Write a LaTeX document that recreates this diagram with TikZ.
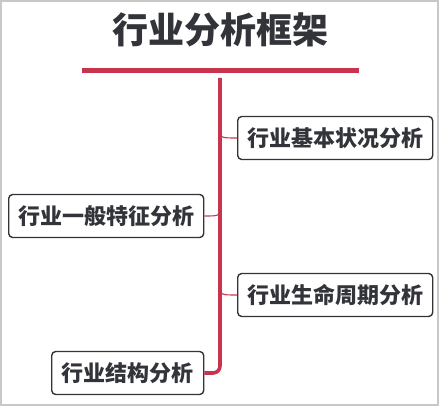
\documentclass[tikz,border=0pt]{standalone}
\usepackage{fontspec}
\newfontfamily\cjk{Noto Sans CJK SC}
\definecolor{trunkred}{RGB}{200,52,78}
\definecolor{txtgray}{RGB}{50,52,58}
\definecolor{framegray}{RGB}{200,200,200}
\begin{document}
\begin{tikzpicture}[x=1pt,y=-1pt,
  topic/.style={draw=txtgray,line width=1.4pt,rounded corners=4pt,fill=white,
    text=txtgray,font=\cjk\bfseries\fontsize{22}{22}\selectfont,
    minimum height=43pt,inner sep=0pt,anchor=west},
  link/.style={draw=trunkred,line width=1.1pt},
]
\useasboundingbox (0,0) rectangle (439,406);
\draw[framegray,line width=1.5pt] (1,1) rectangle (438,405);
\node[text=txtgray,font=\cjk\bfseries\fontsize{36}{36}\selectfont] (title) at (220,30) {行业分析框架};
\coordinate (barL) at (82,71);
\coordinate (barR) at (359,71);
\draw[trunkred,line width=5pt] (barL) -- (barR);
\coordinate (trunkTop) at (220,78);
\node[topic,minimum width=195pt] (b1) at (237,138) {行业基本状况分析};
\node[topic,minimum width=195pt] (b2) at (8,216) {行业一般特征分析};
\node[topic,minimum width=195pt] (b3) at (237,295) {行业生命周期分析};
\node[topic,minimum width=152pt] (b4) at (51,373) {行业结构分析};
\draw[link] (220,128) .. controls (220,138) .. (b1.west);
\draw[link] (220,206) .. controls (220,216) .. (b2.east);
\draw[link] (220,285) .. controls (220,295) .. (b3.west);
\draw[trunkred,line width=3.6pt,rounded corners=7pt] (trunkTop) |- (b4.east);
\end{tikzpicture}
\end{document}
